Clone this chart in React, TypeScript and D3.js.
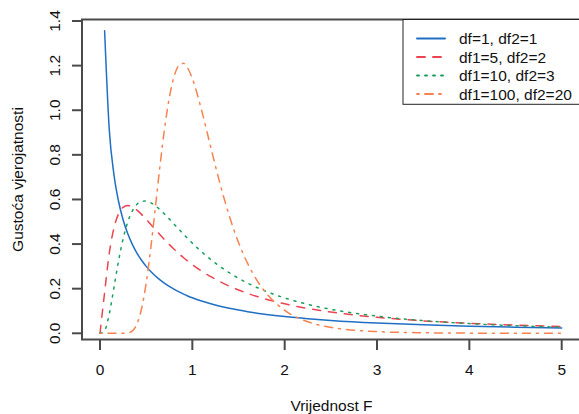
import React from "react";
import * as d3 from "d3";

const xs = [0, 0.05, 0.1, 0.15, 0.2, 0.25, 0.3, 0.35, 0.4, 0.45, 0.5, 0.55, 0.6, 0.65, 0.7, 0.75, 0.8, 0.85, 0.9, 0.95, 1.0, 1.1, 1.2, 1.3, 1.4, 1.5, 1.6, 1.7, 1.8, 2.0, 2.25, 2.5, 3.0, 3.5, 4.0, 4.5, 5.0];

const df1_1_df2_1 = [null, 1.356, 0.9151, 0.7147, 0.5931, 0.5093, 0.447, 0.3986, 0.3595, 0.3273, 0.3001, 0.2769, 0.2568, 0.2393, 0.2238, 0.21, 0.1977, 0.1866, 0.1766, 0.1675, 0.1592, 0.1445, 0.1321, 0.1214, 0.1121, 0.104, 0.0968, 0.0904, 0.0847, 0.075, 0.0653, 0.0575, 0.0459, 0.0378, 0.0318, 0.0273, 0.0237];
const df1_5_df2_2 = [0, 0.1829, 0.3577, 0.4708, 0.5346, 0.5645, 0.5725, 0.5667, 0.5524, 0.5332, 0.5112, 0.4877, 0.4648, 0.4418, 0.4195, 0.3982, 0.378, 0.3589, 0.3408, 0.3239, 0.308, 0.2791, 0.2537, 0.2314, 0.2117, 0.1943, 0.1789, 0.1651, 0.1529, 0.1321, 0.1114, 0.0952, 0.0717, 0.0559, 0.0448, 0.0367, 0.0306];
const df1_10_df2_3 = [0, 0.0128, 0.0859, 0.2021, 0.3221, 0.4231, 0.4985, 0.5489, 0.5784, 0.5916, 0.5931, 0.5854, 0.5717, 0.5541, 0.534, 0.5125, 0.4904, 0.468, 0.4461, 0.4247, 0.4043, 0.3655, 0.3306, 0.2993, 0.2715, 0.2467, 0.2248, 0.2052, 0.1878, 0.1585, 0.1298, 0.1077, 0.0768, 0.0569, 0.0434, 0.034, 0.0272];
const df1_100_df2_20 = [0, 0, 0, 0, 0, 0.0001, 0.0018, 0.0111, 0.0417, 0.1099, 0.225, 0.3825, 0.5656, 0.752, 0.9201, 1.0547, 1.1481, 1.1988, 1.2102, 1.1889, 1.1421, 1.0005, 0.8333, 0.6703, 0.5268, 0.4075, 0.312, 0.2373, 0.1799, 0.1032, 0.0519, 0.0267, 0.0076, 0.0024, 0.0008, 0.0003, 0.0001];

const seriesLabels = ["df=1, df2=1", "df1=5, df2=2", "df1=10, df2=3", "df1=100, df2=20"];
const seriesValues = [df1_1_df2_1, df1_5_df2_2, df1_10_df2_3, df1_100_df2_20];
const seriesColors = ["#1f6fc4", "#ea4450", "#17a05a", "#f6834f"];
const seriesDash = ["none", "8,8", "2,6", "2,6,8,6"];

const xTicks = [0, 1, 2, 3, 4, 5];
const yTicks = [0, 0.2, 0.4, 0.6, 0.8, 1.0, 1.2, 1.4];

const W = 579;
const H = 414;
const FONT = "'Liberation Sans', Arial, Helvetica, sans-serif";
const FS = 15.5;

export default function App() {
  const x = d3.scaleLinear().domain([0, 5]).range([100, 561.7]);
  const y = d3.scaleLinear().domain([0, 1.4]).range([333.3, 21]);
  const box = { l: 82, r: 581, t: 19.5, b: 339.5 };
  const axisColor = "#4a4a4a";

  const line = d3
    .line<[number, number | null]>()
    .defined((d) => d[1] !== null)
    .x((d) => x(d[0]))
    .y((d) => y(d[1] as number))
    .curve(d3.curveMonotoneX);

  const legend = { l: 403, t: 19.5, b: 104.3, x0: 417, x1: 445, tx: 459, rows: [38.5, 57, 75.5, 94] };

  return (
    <svg width={W} height={H} style={{ position: "absolute", left: 0, top: 0, background: "#fff" }} fontFamily={FONT}>
      <rect x={0} y={0} width={W} height={H} fill="#fff" />
      {seriesValues.map((vals, i) => (
        <path
          key={i}
          d={line(xs.map((xv, j) => [xv, vals[j]] as [number, number | null])) || ""}
          fill="none"
          stroke={seriesColors[i]}
          strokeWidth={1.5}
          strokeDasharray={seriesDash[i]}
          strokeLinecap="round"
          strokeLinejoin="round"
        />
      ))}
      {/* plot box */}
      <rect x={box.l} y={box.t} width={box.r - box.l} height={box.b - box.t} fill="none" stroke={axisColor} strokeWidth={2} />
      {/* y axis ticks */}
      {yTicks.map((t) => (
        <g key={"y" + t}>
          <line x1={72} x2={box.l} y1={y(t)} y2={y(t)} stroke={axisColor} strokeWidth={2} />
          <text
            transform={`translate(60,${y(t)}) rotate(-90)`}
            textAnchor="middle"
            fontSize={FS}
            fill="#111"
          >
            {t.toFixed(1)}
          </text>
        </g>
      ))}
      {/* x axis ticks */}
      {xTicks.map((t) => (
        <g key={"x" + t}>
          <line x1={x(t)} x2={x(t)} y1={box.b} y2={350} stroke={axisColor} strokeWidth={2} />
          <text x={x(t)} y={375} textAnchor="middle" fontSize={FS} fill="#111">
            {t}
          </text>
        </g>
      ))}
      <text x={(box.l + box.r) / 2} y={411} textAnchor="middle" fontSize={FS} fill="#111">
        Vrijednost F
      </text>
      <text transform={`translate(23,${(box.t + box.b) / 2}) rotate(-90)`} textAnchor="middle" fontSize={FS} fill="#111">
        Gustoća vjerojatnosti
      </text>
      {/* legend */}
      <rect x={legend.l} y={legend.t} width={box.r - legend.l} height={legend.b - legend.t} fill="#fff" stroke="#222" strokeWidth={1} />
      {seriesLabels.map((lab, i) => (
        <g key={"lg" + i}>
          <line
            x1={legend.x0}
            x2={legend.x1}
            y1={legend.rows[i]}
            y2={legend.rows[i]}
            stroke={seriesColors[i]}
            strokeWidth={1.9}
            strokeDasharray={seriesDash[i]}
            strokeLinecap="round"
          />
          <text x={legend.tx} y={legend.rows[i] + 5.5} fontSize={FS} fill="#111">
            {lab}
          </text>
        </g>
      ))}
    </svg>
  );
}
